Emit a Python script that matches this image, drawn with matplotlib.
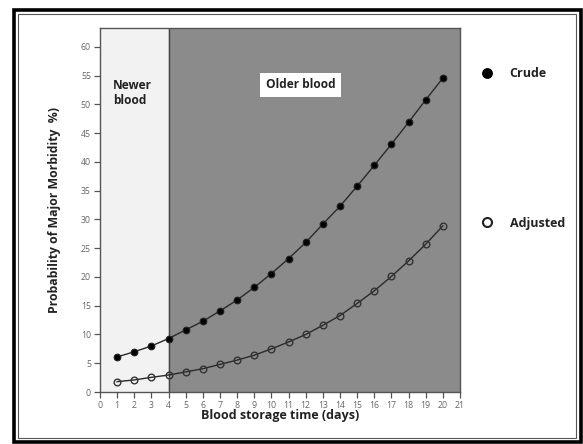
import matplotlib
matplotlib.use("Agg")
import matplotlib.pyplot as plt
from matplotlib.patches import Rectangle
from matplotlib.lines import Line2D

plt.rcParams['font.family'] = ['Open Sans', 'DejaVu Sans']

days = list(range(1, 21))
crude = [6.1, 7.0, 8.0, 9.3, 10.8, 12.3, 14.1, 16.0, 18.2, 20.6,
         23.2, 26.0, 29.2, 32.3, 35.8, 39.4, 43.1, 46.9, 50.8, 54.6]
adjusted = [1.8, 2.1, 2.55, 2.95, 3.5, 4.05, 4.8, 5.55, 6.4, 7.5,
            8.7, 10.0, 11.6, 13.3, 15.4, 17.6, 20.1, 22.8, 25.7, 28.9]
x_ticks = list(range(0, 22))
y_ticks = list(range(0, 61, 5))
newer_span = (0, 4)
older_span = (4, 21)

W, H = 583, 444
fig = plt.figure(figsize=(W / 100, H / 100), dpi=100)
fig.patch.set_facecolor('white')

def px(x0, y0, x1, y1):
    """Figure-fraction rectangle from pixel corners (top-left origin)."""
    return [x0 / W, 1 - y1 / H, (x1 - x0) / W, (y1 - y0) / H]

ax = fig.add_axes(px(100, 28, 460, 392))
ax.set_xlim(0, 21)
ax.set_ylim(0, 63.3)

ax.axvspan(*newer_span, color='#f2f2f2', zorder=0)
ax.axvspan(*older_span, color='#8b8b8b', zorder=0)
ax.axvline(4, color='#444444', lw=1.0, zorder=1)

line_c, = ax.plot(days, crude, color='#2a2a2a', lw=1.0, marker='o', ms=4.8,
                  mfc='black', mec='#222222', mew=0.8, zorder=3)
line_a, = ax.plot(days, adjusted, color='#2a2a2a', lw=1.0, marker='o', ms=4.8,
                  mfc='none', mec='#333333', mew=1.0, zorder=3)

ax.set_xticks(x_ticks)
ax.set_yticks(y_ticks)
ax.tick_params(axis='both', direction='out', length=4, width=0.9,
               color='#555555', labelsize=6.3, labelcolor='#666666', pad=2.5)
for s in ax.spines.values():
    s.set_color('#555555')
    s.set_linewidth(1.0)

ax.set_xlabel('Blood storage time (days)', fontsize=9, fontweight='bold',
              color='#222222', labelpad=-1)
ax.set_ylabel('Probability of Major Morbidity  %)', fontsize=8.8,
              fontweight='bold', color='#222222', labelpad=14)

ax.text(0.75, 52.0, 'Newer\nblood', fontsize=8.6, fontweight='bold',
        color='#222222', ha='left', va='center', linespacing=1.25)
ax.text(11.7, 53.4, 'Older blood', fontsize=8.6, fontweight='bold',
        color='#222222', ha='center', va='center',
        bbox=dict(boxstyle='square,pad=0.45', fc='white', ec='none'))

# Legend entries on the right
legend = fig.legend(
    [Line2D([], [], ls='none', marker='o', ms=6.8, mfc='black', mec='black'),
     Line2D([], [], ls='none', marker='o', ms=6.5, mfc='white', mec='#222222', mew=1.5)],
    ['Crude', 'Adjusted'],
    loc='upper left', bbox_to_anchor=(481 / W, 1 - 67 / H),
    frameon=False, fontsize=9, labelspacing=10.95, handlelength=1.0,
    handletextpad=1.3, borderaxespad=0, borderpad=0)
for t in legend.get_texts():
    t.set_fontweight('bold')
    t.set_color('#222222')

# Double frame around the figure
fig.add_artist(Rectangle((13.5 / W, 1 - 442 / H), (581 - 13.5) / W, (442 - 10.5) / H,
                         transform=fig.transFigure, fill=False, ec='black', lw=2.6))
fig.add_artist(Rectangle((17.5 / W, 1 - 437.5 / H), (576 - 17.5) / W, (437.5 - 14.5) / H,
                         transform=fig.transFigure, fill=False, ec='#555555', lw=0.8))

fig.savefig('out.png', dpi=100)
